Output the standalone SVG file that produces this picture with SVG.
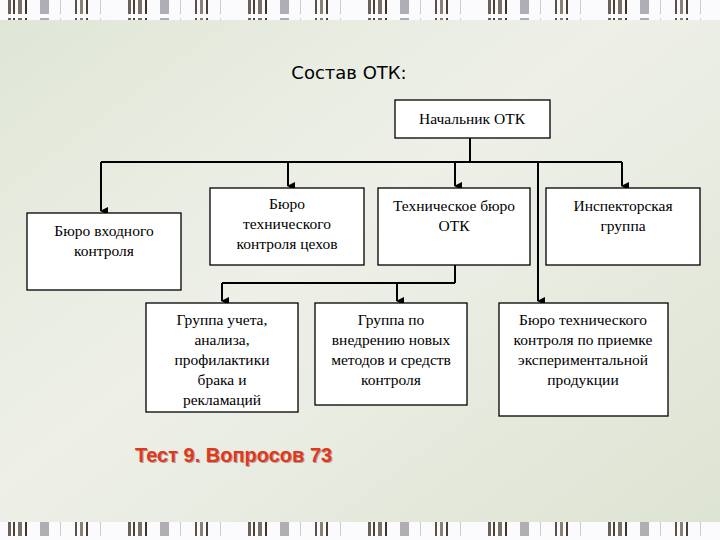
<svg xmlns="http://www.w3.org/2000/svg" width="720" height="540" viewBox="0 0 720 540">
<defs>
<linearGradient id="bg" x1="0" y1="0" x2="1" y2="1">
<stop offset="0" stop-color="#dfe6d6"/><stop offset="0.45" stop-color="#eef0e8"/><stop offset="1" stop-color="#dde3d2"/>
</linearGradient>
<pattern id="bars" width="120" height="18" patternUnits="userSpaceOnUse">
<rect width="120" height="18" fill="#fbfbfd"/>
<rect x="8" width="3" height="14" fill="#6a6258"/><rect x="13" width="2" height="14" fill="#4a4238"/><rect x="18" width="4" height="14" fill="#7a7266"/><rect x="25" width="2" height="14" fill="#3e362e"/>
<rect x="40" width="9" height="14" fill="#b0aeb4"/><rect x="60" width="1" height="14" fill="#ccc"/>
<rect x="75" width="2" height="14" fill="#5a5248"/><rect x="80" width="3" height="14" fill="#8a8276"/><rect x="86" width="2" height="14" fill="#4a4238"/>
<rect x="100" width="1" height="14" fill="#ccc"/>
</pattern>
<marker id="ar" markerWidth="8" markerHeight="8" refX="4" refY="7" orient="auto" markerUnits="userSpaceOnUse">
<path d="M0,0 L8,0 L4,8 Z" fill="#000"/>
</marker>
<style>
.b{fill:#fff;stroke:#000;stroke-width:1.3}
.t{font-family:"Liberation Serif",serif;font-size:15.5px;fill:#000;text-anchor:middle}
.c{fill:none;stroke:#000;stroke-width:2}
</style>
</defs>
<rect width="720" height="540" fill="url(#bg)"/>
<rect width="720" height="20" fill="url(#bars)"/>
<rect y="522" width="720" height="18" fill="url(#bars)"/>
<text x="349" y="79" font-family="DejaVu Sans,sans-serif" font-size="18" text-anchor="middle" fill="#000">Состав ОТК:</text>
<g id="connectors">
<path class="c" d="M470,138 V162 M101,162 H622"/>
<path class="c" d="M101,162 V211" marker-end="url(#ar)"/>
<path class="c" d="M288,162 V186" marker-end="url(#ar)"/>
<path class="c" d="M455,162 V186" marker-end="url(#ar)"/>
<path class="c" d="M622,162 V186" marker-end="url(#ar)"/>
<path class="c" d="M538,162 V301" marker-end="url(#ar)"/>
<path class="c" d="M455,265 V283 M222,283 H455"/>
<path class="c" d="M222,283 V301" marker-end="url(#ar)"/>
<path class="c" d="M397,283 V301" marker-end="url(#ar)"/>
</g>
<g id="n0"><rect class="b" x="395" y="100" width="155" height="38"/><text class="t" x="472" y="124">Начальник ОТК</text></g>
<g id="n1"><rect class="b" x="27" y="213" width="154" height="77"/><text class="t" x="104" y="236">Бюро входного</text><text class="t" x="104" y="256">контроля</text></g>
<g id="n2"><rect class="b" x="210" y="188" width="154" height="77"/><text class="t" x="287" y="209">Бюро</text><text class="t" x="287" y="229">технического</text><text class="t" x="287" y="249">контроля цехов</text></g>
<g id="n3"><rect class="b" x="378" y="188" width="152" height="77"/><text class="t" x="454" y="211">Техническое бюро</text><text class="t" x="454" y="231">ОТК</text></g>
<g id="n4"><rect class="b" x="546" y="188" width="154" height="77"/><text class="t" x="623" y="211">Инспекторская</text><text class="t" x="623" y="231">группа</text></g>
<g id="n5"><rect class="b" x="146" y="303" width="152" height="109"/><text class="t" x="222" y="325">Группа учета,</text><text class="t" x="222" y="345">анализа,</text><text class="t" x="222" y="365">профилактики</text><text class="t" x="222" y="385">брака и</text><text class="t" x="222" y="405">рекламаций</text></g>
<g id="n6"><rect class="b" x="315" y="303" width="152" height="102"/><text class="t" x="391" y="325">Группа по</text><text class="t" x="391" y="345">внедрению новых</text><text class="t" x="391" y="365">методов и средств</text><text class="t" x="391" y="385">контроля</text></g>
<g id="n7"><rect class="b" x="499" y="303" width="169" height="113"/><text class="t" x="583" y="325">Бюро технического</text><text class="t" x="583" y="345">контроля по приемке</text><text class="t" x="583" y="365">экспериментальной</text><text class="t" x="583" y="385">продукции</text></g>
<text x="135" y="462" font-family="Liberation Sans,sans-serif" font-size="20" font-weight="bold" fill="#6a2010" opacity="0.4" transform="translate(1,1)">Тест 9. Вопросов 73</text>
<text x="135" y="462" font-family="Liberation Sans,sans-serif" font-size="20" font-weight="bold" fill="#e0381e">Тест 9. Вопросов 73</text>
</svg>
